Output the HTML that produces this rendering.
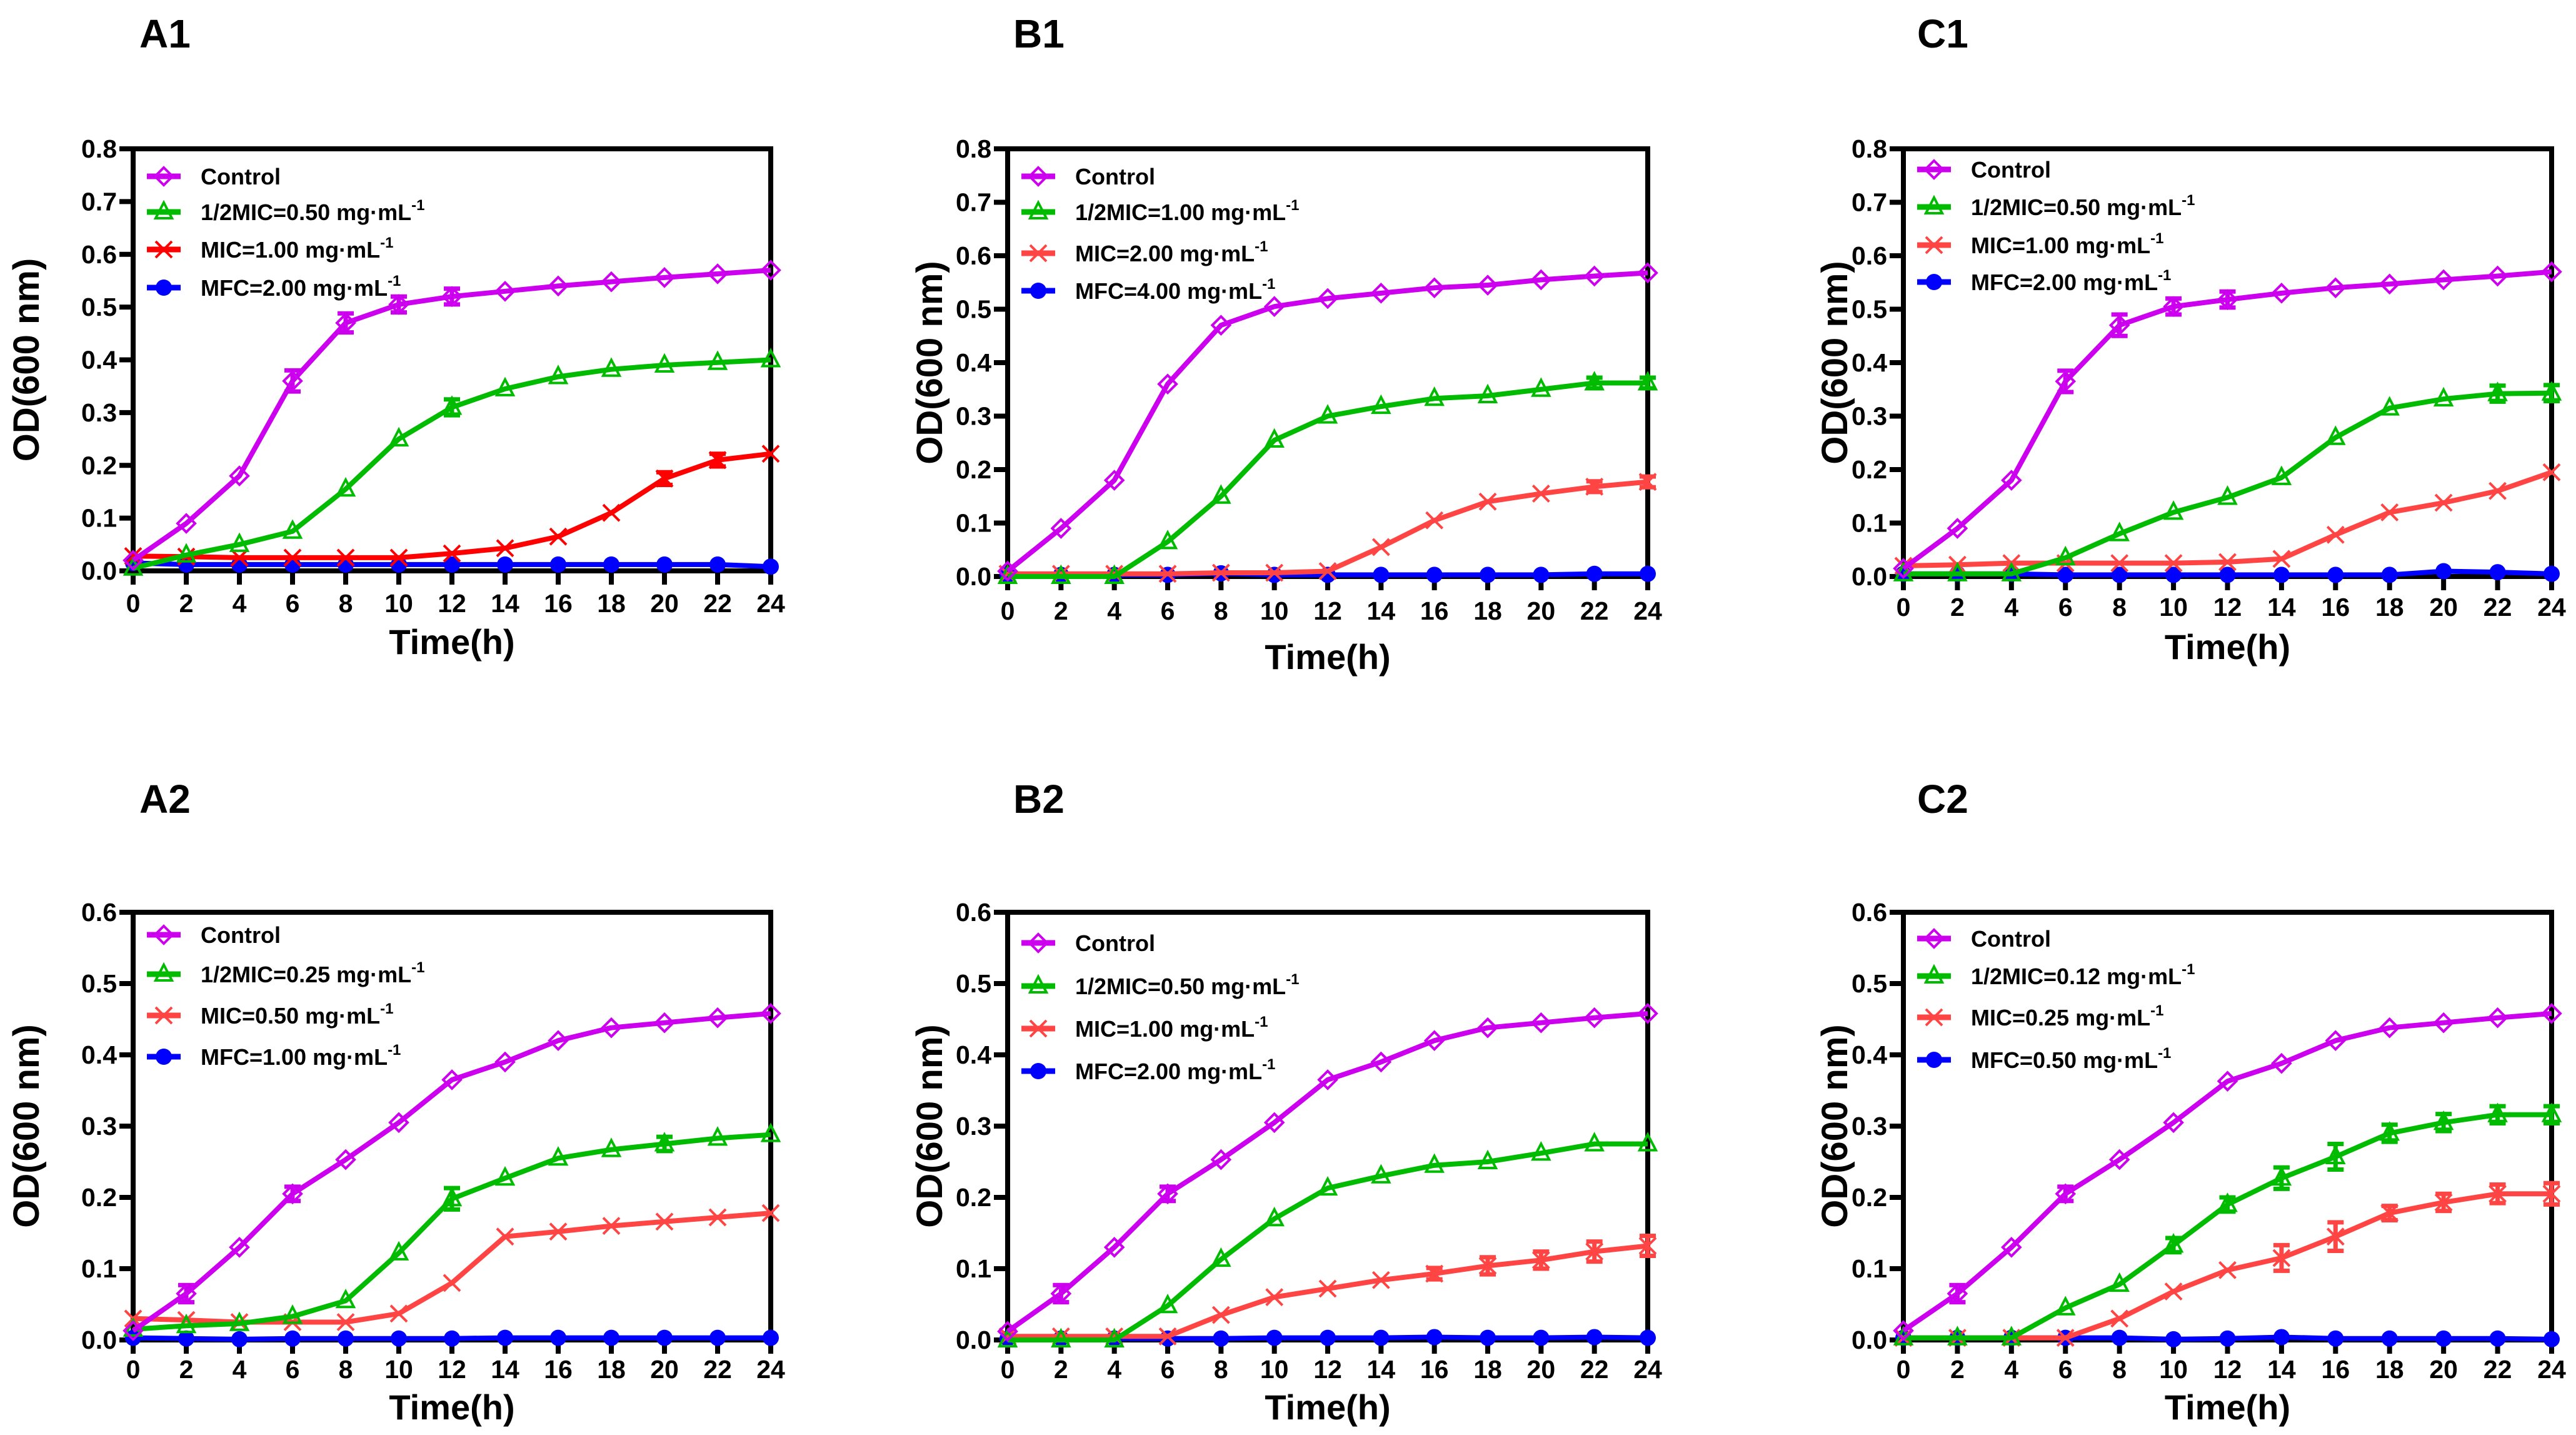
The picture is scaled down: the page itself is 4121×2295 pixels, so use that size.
<!DOCTYPE html>
<html><head><meta charset="utf-8"><style>
html,body{margin:0;padding:0;background:#fff;}
svg{display:block;}
text{font-family:"Liberation Sans",Arial,sans-serif;font-weight:bold;fill:#000;}
</style></head><body>
<svg id="fig" width="4121" height="2295" viewBox="0 0 4121 2295" xmlns="http://www.w3.org/2000/svg"></svg>
<script>
const times = [0,2,4,6,8,10,12,14,16,18,20,22,24];
const xTickLabels = ["0","2","4","6","8","10","12","14","16","18","20","22","24"];
const yTicksRow1 = [0,0.1,0.2,0.3,0.4,0.5,0.6,0.7,0.8];
const yTicksRow2 = [0,0.1,0.2,0.3,0.4,0.5,0.6];

const a1Control = [.02,.09,.18,.36,.47,.505,.52,.53,.54,.548,.556,.563,.57];
const a1ControlErr = [0,0,0,.02,.018,.015,.015,0,0,0,0,0,0];
const a1Half = [.005,.03,.05,.075,.155,.25,.31,.345,.368,.382,.39,.395,.40];
const a1HalfErr = [0,0,0,0,0,0,.015,0,0,0,0,0,0];
const a1Mic = [.028,.027,.025,.025,.025,.025,.033,.043,.065,.11,.175,.21,.222];
const a1MicErr = [0,0,0,0,0,0,0,0,0,0,.012,.012,0];
const a1Mfc = [.015,.012,.012,.012,.012,.012,.012,.012,.012,.012,.012,.012,.008];

const b1Control = [.01,.09,.18,.36,.47,.505,.52,.53,.54,.545,.555,.562,.568];
const b1Half = [0,0,0,.065,.15,.255,.30,.318,.333,.338,.35,.362,.362];
const b1HalfErr = [0,0,0,0,0,0,0,0,0,0,0,.01,.01];
const b1Mic = [.005,.005,.005,.005,.007,.007,.01,.055,.105,.14,.155,.168,.177];
const b1MicErr = [0,0,0,0,0,0,0,0,0,0,0,.01,.01];
const b1Mfc = [.003,.003,.003,.003,.006,.003,.003,.003,.003,.003,.003,.005,.005];

const c1Control = [.015,.09,.18,.365,.47,.505,.518,.53,.54,.547,.555,.562,.57];
const c1ControlErr = [0,0,0,.02,.02,.015,.015,0,0,0,0,0,0];
const c1Half = [.005,.005,.005,.035,.08,.12,.148,.185,.26,.315,.332,.342,.343];
const c1HalfErr = [0,0,0,0,0,0,0,0,0,0,0,.015,.015];
const c1Mic = [.02,.022,.025,.025,.025,.025,.027,.033,.078,.12,.138,.16,.195];
const c1Mfc = [.005,.005,.005,.003,.003,.003,.003,.003,.003,.003,.01,.008,.005];

const a2Control = [.013,.065,.13,.205,.253,.305,.365,.39,.42,.438,.445,.452,.458];
const a2ControlErr = [0,.012,0,.01,0,0,0,0,0,0,0,0,0];
const a2Half = [.015,.02,.023,.033,.055,.122,.198,.227,.255,.267,.275,.283,.288];
const a2HalfErr = [0,0,0,0,0,0,.015,0,0,0,.01,0,0];
const a2Mic = [.03,.028,.025,.025,.025,.037,.08,.145,.152,.16,.166,.172,.178];
const a2Mfc = [.003,.002,.001,.002,.002,.002,.002,.003,.003,.003,.003,.003,.003];

const b2Control = [.012,.065,.13,.205,.253,.305,.365,.39,.42,.438,.445,.452,.458];
const b2ControlErr = [0,.012,0,.01,0,0,0,0,0,0,0,0,0];
const b2Half = [0,0,0,.048,.113,.17,.213,.23,.245,.25,.262,.275,.275];
const b2Mic = [.005,.005,.005,.005,.035,.06,.072,.084,.093,.104,.112,.124,.132];
const b2MicErr = [0,0,0,0,0,0,0,0,.008,.012,.012,.014,.014];
const b2Mfc = [.002,.002,.002,.002,.002,.003,.003,.003,.004,.003,.003,.004,.003];

const c2Control = [.013,.065,.13,.205,.253,.305,.363,.388,.42,.438,.445,.452,.458];
const c2ControlErr = [0,.012,0,.01,0,0,0,0,0,0,0,0,0];
const c2Half = [.003,.003,.003,.045,.078,.133,.19,.227,.257,.29,.305,.316,.316];
const c2HalfErr = [0,0,0,0,0,.01,.01,.015,.018,.012,.012,.012,.012];
const c2Mic = [.003,.003,.003,.003,.03,.068,.098,.115,.145,.178,.193,.205,.205];
const c2MicErr = [0,0,0,0,0,0,0,.018,.02,.01,.012,.013,.015];
const c2Mfc = [.003,.003,.003,.003,.003,.001,.002,.004,.002,.002,.002,.002,.001];

const legendA1 = ["Control","1/2MIC=0.50 mg·mL","MIC=1.00 mg·mL","MFC=2.00 mg·mL"];
const legendB1 = ["Control","1/2MIC=1.00 mg·mL","MIC=2.00 mg·mL","MFC=4.00 mg·mL"];
const legendC1 = ["Control","1/2MIC=0.50 mg·mL","MIC=1.00 mg·mL","MFC=2.00 mg·mL"];
const legendA2 = ["Control","1/2MIC=0.25 mg·mL","MIC=0.50 mg·mL","MFC=1.00 mg·mL"];
const legendB2 = ["Control","1/2MIC=0.50 mg·mL","MIC=1.00 mg·mL","MFC=2.00 mg·mL"];
const legendC2 = ["Control","1/2MIC=0.12 mg·mL","MIC=0.25 mg·mL","MFC=0.50 mg·mL"];

const NS = "http://www.w3.org/2000/svg";
const svg = document.getElementById('fig');
function mk(tag, attrs, parent){
  const e = document.createElementNS(NS, tag);
  for (const k in attrs) e.setAttribute(k, attrs[k]);
  (parent||svg).appendChild(e);
  return e;
}
const PURPLE="#cc00ee", GREEN="#00bb00", BLUE="#0000ff";

function marker(g, kind, cx, cy, color){
  let m;
  if (kind==='diamond'){
    m = mk('polygon',{points:`${cx},${cy-14} ${cx+14},${cy} ${cx},${cy+14} ${cx-14},${cy}`,fill:'none',stroke:color,'stroke-width':4},g);
  } else if (kind==='triangle'){
    m = mk('polygon',{points:`${cx},${cy-15} ${cx+13},${cy+10} ${cx-13},${cy+10}`,fill:'none',stroke:color,'stroke-width':4},g);
  } else if (kind==='x'){
    m = mk('path',{d:`M${cx-13},${cy-13}L${cx+13},${cy+13}M${cx+13},${cy-13}L${cx-13},${cy+13}`,fill:'none',stroke:color,'stroke-width':4},g);
  } else {
    m = mk('circle',{cx:cx,cy:cy,r:13,fill:color},g);
  }
  return m;
}

function panel(cfg){
  const g = mk('g',{});
  
  
  const {L,R,T,B,ymax,yTicks} = cfg;
  const xs = t => L + (t/24)*(R-L);
  const ys = v => B - (v/ymax)*(B-T);

  const title = mk('text',{x:cfg.tx,y:cfg.ty,'font-size':64},g);
  title.textContent = cfg.id;
  
  

  // axes frame
  const frame = mk('rect',{x:L,y:T,width:R-L,height:B-T,fill:'none',stroke:'#000','stroke-width':8},g);
  
  

  yTicks.forEach(v=>{
    const y = ys(v);
    mk('line',{x1:L-22,x2:L,y1:y,y2:y,stroke:'#000','stroke-width':8},g);
    const t = mk('text',{x:L-26,y:y+14,'font-size':41,'text-anchor':'end'},g);
    t.textContent = v.toFixed(1);
    
    
  });
  times.forEach((tm,i)=>{
    const x = xs(tm);
    mk('line',{x1:x,x2:x,y1:B,y2:B+22,stroke:'#000','stroke-width':8},g);
    const t = mk('text',{x:x,y:cfg.xly,'font-size':41,'text-anchor':'middle'},g);
    t.textContent = xTickLabels[i];
    
    
  });
  const xt = mk('text',{x:(L+R)/2,y:cfg.xty,'font-size':56,'text-anchor':'middle'},g);
  xt.textContent = 'Time(h)';
  
  
  const yc = (T+B)/2;
  const yt = mk('text',{x:cfg.ytx,y:yc,'font-size':58,'text-anchor':'middle',transform:`rotate(-90 ${cfg.ytx} ${yc})`,dy:20},g);
  yt.textContent = 'OD(600 nm)';
  
  

  const series = [
    {name:'mfc', vals:cfg.mfc, err:null, color:BLUE, mk:'circle'},
    {name:'mic', vals:cfg.mic, err:cfg.micErr, color:cfg.red, mk:'x'},
    {name:'half-mic', vals:cfg.half, err:cfg.halfErr, color:GREEN, mk:'triangle'},
    {name:'control', vals:cfg.control, err:cfg.controlErr, color:PURPLE, mk:'diamond'},
  ];
  series.forEach(s=>{
    const sg = mk('g',{},g);
    
    
    const pts = s.vals.map((v,i)=>`${xs(times[i])},${ys(v)}`).join(' ');
    const pl = mk('polyline',{points:pts,fill:'none',stroke:s.color,'stroke-width':8,'stroke-linejoin':'round'},sg);
    
    
    s.vals.forEach((v,i)=>{
      const x = xs(times[i]), y = ys(v);
      if (s.err && s.err[i]>0){
        const e = s.err[i];
        const y1 = ys(v+e), y2 = ys(v-e);
        mk('path',{d:`M${x},${y1}L${x},${y2}M${x-13},${y1}L${x+13},${y1}M${x-13},${y2}L${x+13},${y2}`,stroke:s.color,'stroke-width':7,fill:'none'},sg);
      }
      const m = marker(sg, s.mk, x, y, s.color);
      
      
    });
  });

  // legend
  const lg = mk('g',{},g);
  
  
  const legCols = [PURPLE, GREEN, cfg.red, BLUE];
  const legMk = ['diamond','triangle','x','circle'];
  cfg.legend.forEach((lab,i)=>{
    const y = cfg.legY[i];
    const ent = mk('g',{},lg);
    
    
    mk('line',{x1:L+22,x2:L+76,y1:y,y2:y,stroke:legCols[i],'stroke-width':9},ent);
    marker(ent, legMk[i], L+49, y, legCols[i]);
    const t = mk('text',{x:L+108,y:y+13,'font-size':36},ent);
    t.textContent = lab;
    if (i>0){
      const sp = mk('tspan',{dy:-16,'font-size':24},t);
      sp.textContent = '-1';
    }
  });
}

panel({id:'A1',L:213,R:1233,T:238,B:913,ymax:0.8,yTicks:yTicksRow1,tx:223,ty:76,xly:979,xty:1046,ytx:42,
  control:a1Control,controlErr:a1ControlErr,half:a1Half,halfErr:a1HalfErr,mic:a1Mic,micErr:a1MicErr,mfc:a1Mfc,
  red:'#ff0000',legend:legendA1,legY:[282,339,399,460]});
panel({id:'B1',L:1612,R:2636,T:238,B:922,ymax:0.8,yTicks:yTicksRow1,tx:1621,ty:76,xly:991,xty:1070,ytx:1487,
  control:b1Control,controlErr:null,half:b1Half,halfErr:b1HalfErr,mic:b1Mic,micErr:b1MicErr,mfc:b1Mfc,
  red:'#ff4444',legend:legendB1,legY:[282,339,405,465]});
panel({id:'C1',L:3045,R:4082,T:238,B:922,ymax:0.8,yTicks:yTicksRow1,tx:3067,ty:76,xly:985,xty:1054,ytx:2935,
  control:c1Control,controlErr:c1ControlErr,half:c1Half,halfErr:c1HalfErr,mic:c1Mic,micErr:null,mfc:c1Mfc,
  red:'#ff4444',legend:legendC1,legY:[271,331,392,451]});
panel({id:'A2',L:213,R:1233,T:1459,B:2143,ymax:0.6,yTicks:yTicksRow2,tx:223,ty:1300,xly:2204,xty:2270,ytx:42,
  control:a2Control,controlErr:a2ControlErr,half:a2Half,halfErr:a2HalfErr,mic:a2Mic,micErr:null,mfc:a2Mfc,
  red:'#ff4444',legend:legendA2,legY:[1495,1558,1624,1690]});
panel({id:'B2',L:1612,R:2636,T:1459,B:2143,ymax:0.6,yTicks:yTicksRow2,tx:1621,ty:1300,xly:2204,xty:2270,ytx:1487,
  control:b2Control,controlErr:b2ControlErr,half:b2Half,halfErr:null,mic:b2Mic,micErr:b2MicErr,mfc:b2Mfc,
  red:'#ff4444',legend:legendB2,legY:[1508,1577,1645,1713]});
panel({id:'C2',L:3045,R:4082,T:1459,B:2143,ymax:0.6,yTicks:yTicksRow2,tx:3067,ty:1300,xly:2204,xty:2270,ytx:2935,
  control:c2Control,controlErr:c2ControlErr,half:c2Half,halfErr:c2HalfErr,mic:c2Mic,micErr:c2MicErr,mfc:c2Mfc,
  red:'#ff4444',legend:legendC2,legY:[1501,1561,1627,1695]});
</script>
</body></html>
